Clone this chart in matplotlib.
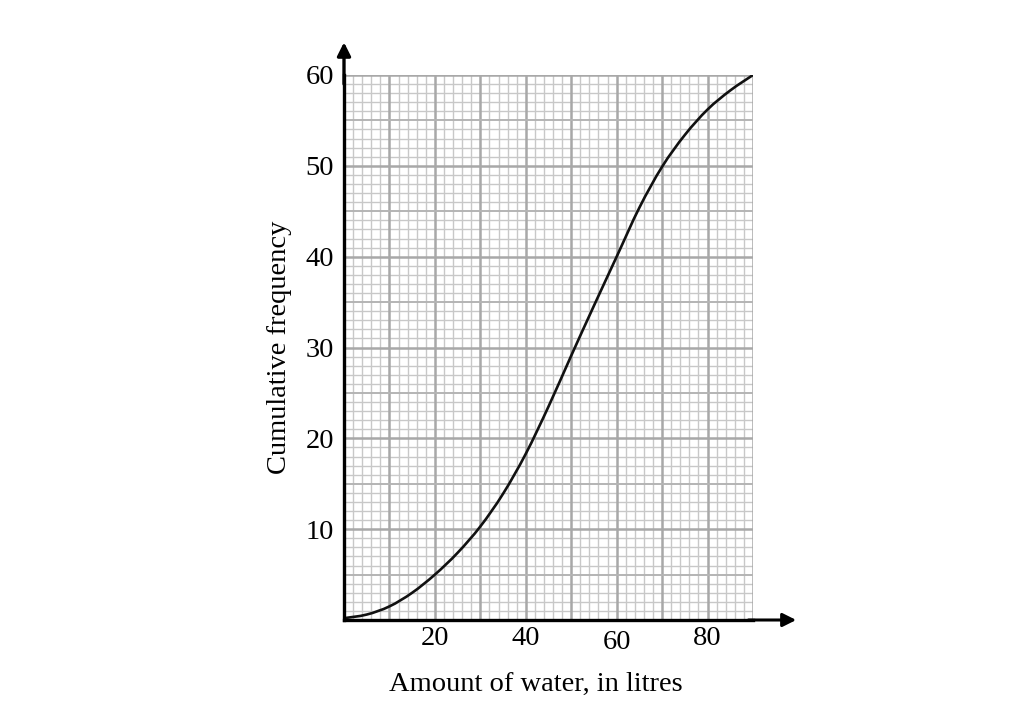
import numpy as np
import matplotlib.pyplot as plt
import matplotlib.transforms as mtransforms
from matplotlib.path import Path
from matplotlib.patches import PathPatch

# Cumulative frequency curve
water = [0, 5, 10, 15, 20, 25, 30, 35, 40, 45, 50, 55, 60, 65, 70, 75, 80, 85, 90]
cum_freq = [0.2, 0.6, 1.5, 3.0, 5.0, 7.4, 10.3, 13.9, 18.3, 23.5, 29.1, 34.6, 40.0,
            45.4, 49.9, 53.4, 56.2, 58.3, 60.0]

x_ticks = [20, 40, 60, 80]
y_ticks = [10, 20, 30, 40, 50, 60]

plt.rcParams['font.family'] = ['Liberation Serif', 'DejaVu Serif']

fig = plt.figure(figsize=(10.19, 7.23), dpi=100)
ax = fig.add_axes([344 / 1019, 103 / 723, 409 / 1019, 545 / 723])

ax.set_xlim(0, 90)
ax.set_ylim(0, 60)

# graph paper
for v in np.arange(2, 91, 2):
    if v % 10:
        ax.axvline(v, color='#c8c8c8', lw=1.0, zorder=1)
for v in np.arange(10, 91, 10):
    ax.axvline(v, color='#a8a8a8', lw=1.8, zorder=2)
for v in np.arange(1, 61, 1):
    if v % 5:
        ax.axhline(v, color='#c8c8c8', lw=1.0, zorder=1)
for v in np.arange(5, 61, 10):
    ax.axhline(v, color='#b4b4b4', lw=1.4, zorder=2)
for v in np.arange(10, 61, 10):
    ax.axhline(v, color='#a8a8a8', lw=1.8, zorder=2)

# smooth curve through the read points (Catmull-Rom as cubic Beziers)
pts = np.column_stack([water, cum_freq])
verts = [tuple(pts[0])]
codes = [Path.MOVETO]
for i in range(len(pts) - 1):
    p0 = pts[max(i - 1, 0)]
    p1 = pts[i]
    p2 = pts[i + 1]
    p3 = pts[min(i + 2, len(pts) - 1)]
    c1 = p1 + (p2 - p0) / 6
    c2 = p2 - (p3 - p1) / 6
    verts += [tuple(c1), tuple(c2), tuple(p2)]
    codes += [Path.CURVE4] * 3
ax.add_patch(PathPatch(Path(verts, codes), facecolor='none', edgecolor='#111111',
                       lw=1.9, zorder=5))

for s in ['top', 'right']:
    ax.spines[s].set_visible(False)
for s in ['left', 'bottom']:
    ax.spines[s].set_linewidth(2.4)
    ax.spines[s].set_zorder(6)

# axis arrows
ax.annotate('', xy=(99.5, 0), xytext=(89, 0), xycoords='data',
            arrowprops=dict(arrowstyle='-|>', color='black', lw=2.2,
                            mutation_scale=20, shrinkA=0, shrinkB=0),
            annotation_clip=False)
ax.annotate('', xy=(0, 63.6), xytext=(0, 59), xycoords='data',
            arrowprops=dict(arrowstyle='-|>', color='black', lw=2.4,
                            mutation_scale=20, shrinkA=0, shrinkB=0),
            annotation_clip=False)

ax.set_xticks(x_ticks)
ax.set_yticks(y_ticks)
ax.tick_params(length=0, labelsize=20.5)
ax.tick_params(axis='x', pad=4)
ax.tick_params(axis='y', pad=7)

# the "60" label sits slightly lower in the original
for lab in ax.get_xticklabels():
    if lab.get_text() == '60':
        lab.set_transform(lab.get_transform() +
                          mtransforms.ScaledTranslation(0, -4 / 100, fig.dpi_scale_trans))

ax.set_xlabel('Amount of water, in litres', fontsize=20.5, labelpad=8)
ax.xaxis.set_label_coords(0.469, -0.095)
ax.set_ylabel('Cumulative frequency', fontsize=20.5, labelpad=10)

fig.savefig('out.png', dpi=100)
